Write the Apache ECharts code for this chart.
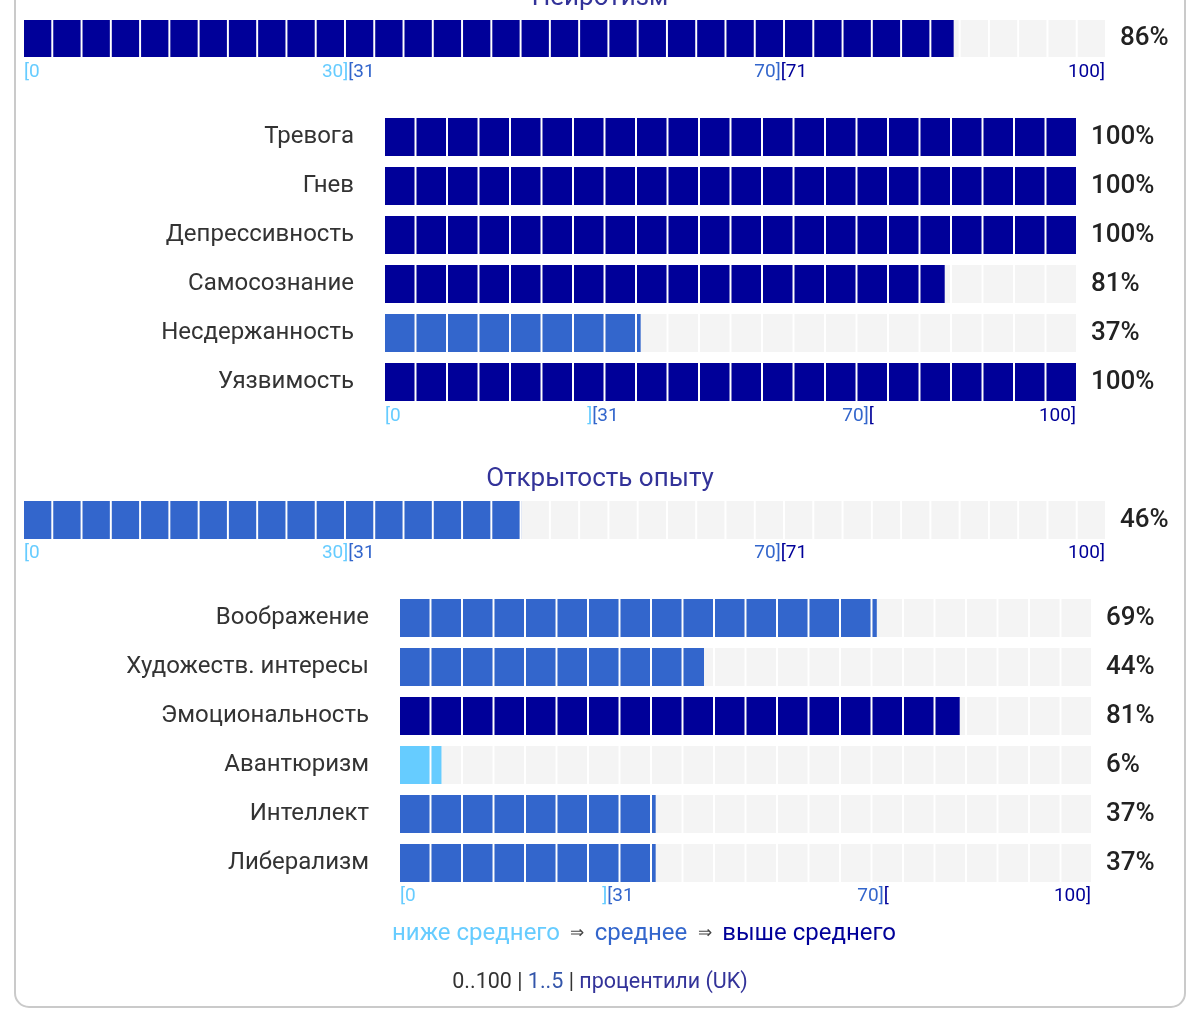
<!DOCTYPE html>
<html>
<head>
<meta charset="utf-8">
<script src="https://cdn.jsdelivr.net/npm/echarts@6/dist/echarts.min.js"></script>
<style>
  html, body { margin: 0; padding: 0; background: #fff; }
  #main { width: 1200px; height: 1035px; }
</style>
</head>
<body>
<div id="main"></div>
<script>
// data
const domainNames = ['Нейротизм', 'Открытость опыту'];
const domainValues = [86, 46];

const neuroFacets = ['Тревога', 'Гнев', 'Депрессивность', 'Самосознание', 'Несдержанность', 'Уязвимость'];
const neuroValues = [100, 100, 100, 81, 37, 100];

const openFacets = ['Воображение', 'Художеств. интересы', 'Эмоциональность', 'Авантюризм', 'Интеллект', 'Либерализм'];
const openValues = [69, 44, 81, 6, 37, 37];

// tick labels: "[x" starts at the tick, "x]" ends at the tick
const tickStartValues = [0, 30, 70];
const tickEndValues = [30, 70, 100];
const domainStartLabels = ['[0', '[31', '[71'];
const domainEndLabels = ['30]', '70]', '100]'];
const facetStartLabels = ['[0', '[31', '['];
const facetEndLabels = [']', '70]', '100]'];

const legendLabels = ['ниже среднего', 'среднее', 'выше среднего'];
const footerLabels = ['0..100', '1..5', 'процентили (UK)'];

const C_LOW = '#66ccff', C_MID = '#3366cc', C_HIGH = '#000099', C_BG = '#f4f4f4';
const FONT = 'Roboto';
const TICK_SIZE = 19;

function bandColor(v) {
  return v <= 30 ? C_LOW : (v <= 70 ? C_MID : C_HIGH);
}

const grid = [], xAxis = [], yAxis = [], series = [];
const bandKeys = ['lo', 'mid', 'hi'];
const tickRich = {
  lo: { color: C_LOW, fontSize: TICK_SIZE, fontFamily: FONT },
  mid: { color: C_MID, fontSize: TICK_SIZE, fontFamily: FONT },
  hi: { color: C_HIGH, fontSize: TICK_SIZE, fontFamily: FONT }
};

function addPanel(p) {
  const gi = grid.length;
  grid.push({ left: p.left, top: p.top, width: p.width, height: p.height });

  const xi = xAxis.length;
  const base = {
    gridIndex: gi, type: 'value', min: 0, max: 100, position: 'bottom',
    axisLine: { show: false }, axisTick: { show: false }, splitLine: { show: false }
  };
  xAxis.push(Object.assign({}, base, {
    axisLabel: {
      fontFamily: FONT, fontSize: TICK_SIZE, lineHeight: TICK_SIZE, margin: p.tickMargin, align: 'right',
      customValues: tickEndValues, rich: tickRich,
      formatter: function (v) {
        const i = tickEndValues.indexOf(+v);
        return '{' + bandKeys[i] + '|' + p.endLabels[i] + '}';
      }
    }
  }));
  xAxis.push(Object.assign({}, base, {
    axisLabel: {
      fontFamily: FONT, fontSize: TICK_SIZE, lineHeight: TICK_SIZE, margin: p.tickMargin, align: 'left',
      customValues: tickStartValues, rich: tickRich,
      formatter: function (v) {
        const i = tickStartValues.indexOf(+v);
        return '{' + bandKeys[i] + '|' + p.startLabels[i] + '}';
      }
    }
  }));

  const yi = yAxis.length;
  yAxis.push({
    gridIndex: gi, type: 'category', inverse: true, data: p.names,
    axisLine: { show: false }, axisTick: { show: false },
    axisLabel: { show: p.showNames, fontFamily: FONT, fontSize: 24, color: '#333', margin: 31, padding: [4, 0, 0, 0] }
  });
  yAxis.push({
    gridIndex: gi, type: 'category', inverse: true, position: 'right',
    data: p.values.map(v => v + '%'),
    axisLine: { show: false }, axisTick: { show: false },
    axisLabel: { fontFamily: FONT, fontSize: 26, fontWeight: 500, color: '#222', margin: 15, padding: [3, 0, 0, 0] }
  });

  const common = {
    type: 'pictorialBar', xAxisIndex: xi, yAxisIndex: yi,
    symbol: 'rect', symbolRepeat: p.blocks, symbolSize: [p.blockW, p.barH],
    symbolBoundingData: 100, symbolClip: true, barGap: '-100%',
    silent: true, animation: false
  };
  // grey track behind
  series.push(Object.assign({}, common, {
    z: 1, itemStyle: { color: C_BG }, data: p.values.map(() => 100)
  }));
  series.push(Object.assign({}, common, {
    z: 2, data: p.values.map(v => ({ value: v, itemStyle: { color: bandColor(v) } }))
  }));
}

// Нейротизм
addPanel({ left: 24, top: 20, width: 1081, height: 37, barH: 37, blocks: 37, blockW: 27.3,
  names: [domainNames[0]], values: [domainValues[0]], showNames: false, tickMargin: 6,
  startLabels: domainStartLabels, endLabels: domainEndLabels });
addPanel({ left: 385, top: 112.5, width: 691, height: 294, barH: 38, blocks: 22, blockW: 29.5,
  names: neuroFacets, values: neuroValues, showNames: true, tickMargin: 0,
  startLabels: facetStartLabels, endLabels: facetEndLabels });
// Открытость опыту
addPanel({ left: 24, top: 501, width: 1081, height: 38, barH: 38, blocks: 37, blockW: 27.3,
  names: [domainNames[1]], values: [domainValues[1]], showNames: false, tickMargin: 5,
  startLabels: domainStartLabels, endLabels: domainEndLabels });
addPanel({ left: 400, top: 593.5, width: 691, height: 294, barH: 38, blocks: 22, blockW: 29.5,
  names: openFacets, values: openValues, showNames: true, tickMargin: -1,
  startLabels: facetStartLabels, endLabels: facetEndLabels });

const chart = echarts.init(document.getElementById('main'));
chart.setOption({
  backgroundColor: '#fff',
  animation: false,
  grid: grid,
  xAxis: xAxis,
  yAxis: yAxis,
  series: series,
  graphic: [
    {
      type: 'rect', z: 0, silent: true,
      shape: { x: 15, y: -20, width: 1170, height: 1027, r: 14 },
      style: { fill: 'none', stroke: '#cacaca', lineWidth: 2 }
    },
    {
      type: 'text', x: 600, y: -2, silent: true,
      style: { text: domainNames[0], fontFamily: FONT, fontSize: 26, fill: '#333399', align: 'center', verticalAlign: 'middle' }
    },
    {
      type: 'text', x: 600, y: 479, silent: true,
      style: { text: domainNames[1], fontFamily: FONT, fontSize: 26, fill: '#333399', align: 'center', verticalAlign: 'middle' }
    },
    {
      type: 'text', x: 644, y: 934, silent: true,
      style: {
        text: '{lo|' + legendLabels[0] + '}{arr|  ⇒  }{mid|' + legendLabels[1] + '}{arr|  ⇒  }{hi|' + legendLabels[2] + '}',
        align: 'center', verticalAlign: 'middle',
        rich: {
          lo: { fill: C_LOW, fontSize: 24, fontFamily: FONT },
          mid: { fill: C_MID, fontSize: 24, fontFamily: FONT },
          hi: { fill: C_HIGH, fontSize: 24, fontFamily: FONT },
          arr: { fill: '#444', fontSize: 17, fontFamily: FONT, padding: [0, 2] }
        }
      }
    },
    {
      type: 'text', x: 600, y: 983, silent: true,
      style: {
        text: '{a|' + footerLabels[0] + ' | }{b|' + footerLabels[1] + '}{a| | }{c|' + footerLabels[2] + '}',
        align: 'center', verticalAlign: 'middle',
        rich: {
          a: { fill: '#333', fontSize: 21.5, fontFamily: FONT },
          b: { fill: '#3355aa', fontSize: 21.5, fontFamily: FONT },
          c: { fill: '#333399', fontSize: 21.5, fontFamily: FONT }
        }
      }
    }
  ]
});
</script>
</body>
</html>
